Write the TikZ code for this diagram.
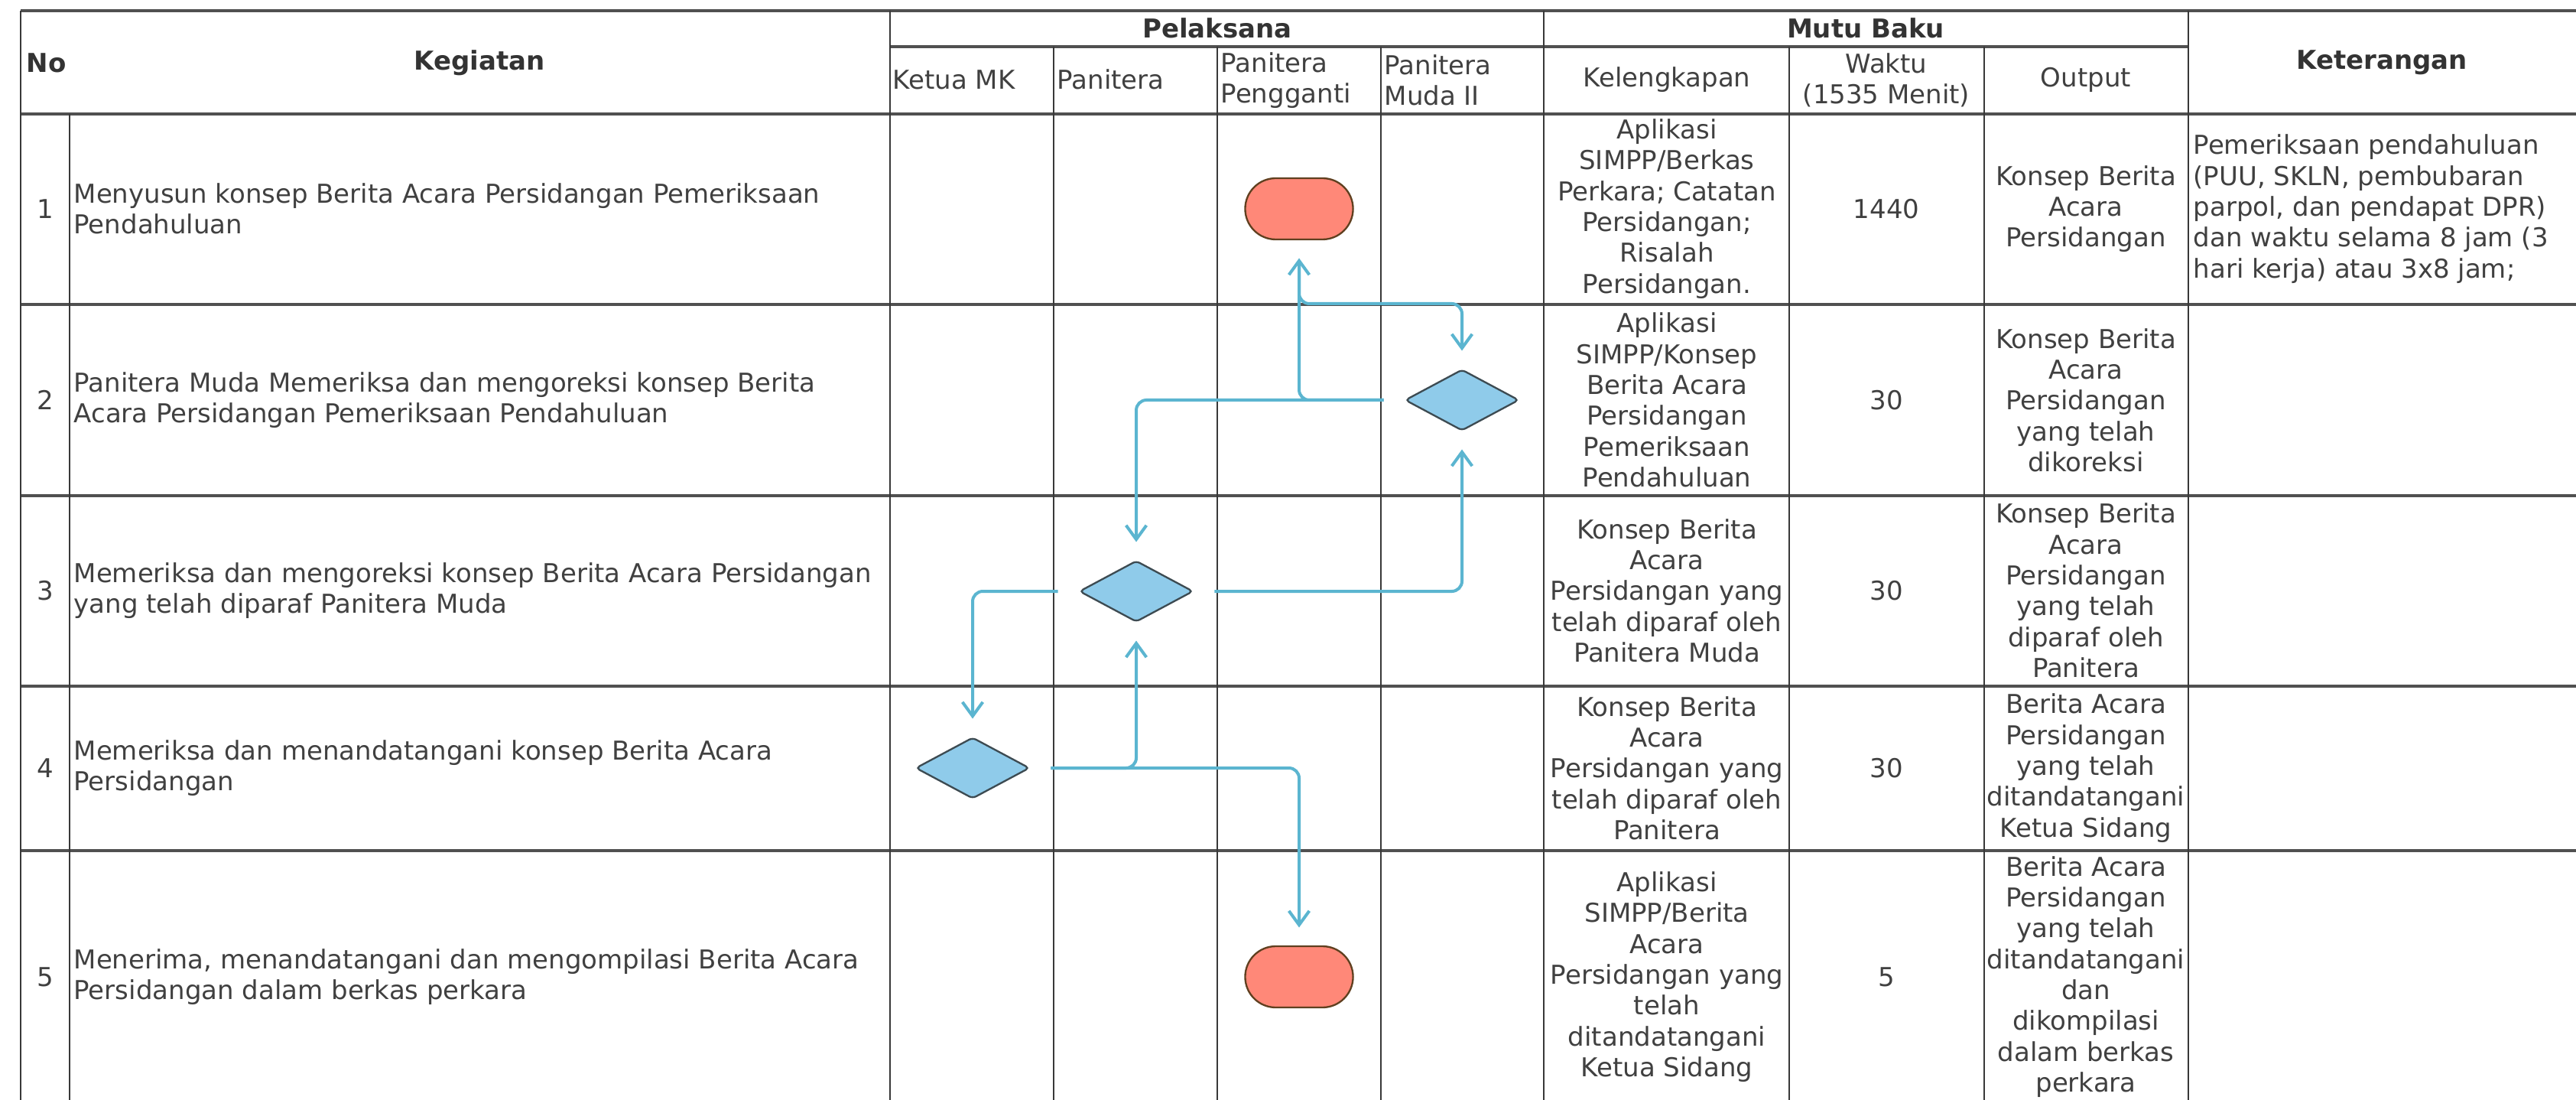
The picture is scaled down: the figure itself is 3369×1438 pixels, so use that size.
\documentclass[tikz,border=0pt]{standalone}
\usepackage{fontspec}
\setmainfont{DejaVu Sans}
\usetikzlibrary{shapes.geometric, shapes.misc, arrows.meta, positioning}
\definecolor{garis}{HTML}{505050}
\definecolor{teks}{HTML}{404040}
\definecolor{alur}{HTML}{5BB5D0}
\definecolor{biru}{HTML}{8FCBEA}
\definecolor{merah}{HTML}{FF8878}
\definecolor{tepi}{HTML}{3D4B52}
\tikzstyle{sel} = [inner sep=0pt, align=center, text=teks, font=\fontsize{10.2pt}{12.1pt}\selectfont]
\tikzstyle{selkiri} = [sel, align=left, anchor=west]
\tikzstyle{judul} = [sel, text=black!80, font=\fontsize{10.2pt}{12.1pt}\selectfont\bfseries]
\tikzstyle{mulai} = [draw=brown!50!black, fill=merah, rounded rectangle, minimum width=49pt, minimum height=24pt, line width=0.7pt]
\tikzstyle{keputusan} = [draw=tepi, fill=biru, diamond, aspect=1.86, minimum width=44.7pt, minimum height=24pt, inner sep=0pt, line width=0.7pt, rounded corners=1.5pt]
\tikzstyle{alir} = [draw=alur, line width=1.2pt, rounded corners=4pt, shorten <=8pt, shorten >=7pt, -{Straight Barb[length=5.5pt,width=8pt]}]
\tikzstyle{hgaris} = [draw=garis, line width=1pt]
\tikzstyle{vgaris} = [draw=garis!70!black, line width=0.6pt]

\begin{document}
\begin{tikzpicture}[x=0.3pt, y=-0.3pt]
	\useasboundingbox (0,0) rectangle (3369,1438);
	% garis tabel
	\draw[hgaris] (27,14) -- (3369,14);
	\draw[hgaris] (1164,61) -- (2862,61);
	\draw[hgaris] (27,149) -- (3369,149);
	\draw[hgaris] (27,398) -- (3369,398);
	\draw[hgaris] (27,648) -- (3369,648);
	\draw[hgaris] (27,897) -- (3369,897);
	\draw[hgaris] (27,1112) -- (3369,1112);
	\draw[vgaris] (27,14) -- (27,1438);
	\draw[vgaris] (91,149) -- (91,1438);
	\draw[vgaris] (1164,14) -- (1164,1438);
	\draw[vgaris] (1378,61) -- (1378,1438);
	\draw[vgaris] (1592,61) -- (1592,1438);
	\draw[vgaris] (1806,61) -- (1806,1438);
	\draw[vgaris] (2019,14) -- (2019,1438);
	\draw[vgaris] (2340,61) -- (2340,1438);
	\draw[vgaris] (2595,61) -- (2595,1438);
	\draw[vgaris] (2862,14) -- (2862,1438);

	% kepala tabel
	\node[judul, anchor=west] (hNo) at (34,82) {No};
	\node[judul] (hKeg) at (627,82) {Kegiatan};
	\node[judul] (hPel) at (1592,37) {Pelaksana};
	\node[judul] (hMutu) at (2440,37) {Mutu Baku};
	\node[judul] (hKet) at (3115,82) {Keterangan};
	\node[selkiri] (hKetua) at (1167,104) {Ketua MK};
	\node[selkiri] (hPan) at (1382,104) {Panitera};
	\node[selkiri] (hPeng) at (1596,105) {Panitera\\Pengganti};
	\node[selkiri] (hMuda) at (1810,105) {Panitera\\Muda II};
	\node[sel] (hKel) at (2180,104) {Kelengkapan};
	\node[sel] (hWak) at (2467,105) {Waktu\\(1535 Menit)};
	\node[sel] (hOut) at (2728,104) {Output};

	% baris 1
	\node[sel] (n1) at (59,273) {1};
	\node[selkiri] (k1) at (96,273) {Menyusun konsep Berita Acara Persidangan Pemeriksaan\\Pendahuluan};
	\node[sel] (l1) at (2180,273) {Aplikasi\\SIMPP/Berkas\\Perkara; Catatan\\Persidangan;\\Risalah\\Persidangan.};
	\node[sel] (w1) at (2467,273) {1440};
	\node[sel] (o1) at (2728,273) {Konsep Berita\\Acara\\Persidangan};
	\node[selkiri] (ket1) at (2868,273) {Pemeriksaan pendahuluan\\(PUU, SKLN, pembubaran\\parpol, dan pendapat DPR)\\dan waktu selama 8 jam (3\\hari kerja) atau 3x8 jam;};

	% baris 2
	\node[sel] (n2) at (59,523) {2};
	\node[selkiri] (k2) at (96,523) {Panitera Muda Memeriksa dan mengoreksi konsep Berita\\Acara Persidangan Pemeriksaan Pendahuluan};
	\node[sel] (l2) at (2180,523) {Aplikasi\\SIMPP/Konsep\\Berita Acara\\Persidangan\\Pemeriksaan\\Pendahuluan};
	\node[sel] (w2) at (2467,523) {30};
	\node[sel] (o2) at (2728,523) {Konsep Berita\\Acara\\Persidangan\\yang telah\\dikoreksi};

	% baris 3
	\node[sel] (n3) at (59,772) {3};
	\node[selkiri] (k3) at (96,772) {Memeriksa dan mengoreksi konsep Berita Acara Persidangan\\yang telah diparaf Panitera Muda};
	\node[sel] (l3) at (2180,772) {Konsep Berita\\Acara\\Persidangan yang\\telah diparaf oleh\\Panitera Muda};
	\node[sel] (w3) at (2467,772) {30};
	\node[sel] (o3) at (2728,772) {Konsep Berita\\Acara\\Persidangan\\yang telah\\diparaf oleh\\Panitera};

	% baris 4
	\node[sel] (n4) at (59,1004) {4};
	\node[selkiri] (k4) at (96,1004) {Memeriksa dan menandatangani konsep Berita Acara\\Persidangan};
	\node[sel] (l4) at (2180,1004) {Konsep Berita\\Acara\\Persidangan yang\\telah diparaf oleh\\Panitera};
	\node[sel] (w4) at (2467,1004) {30};
	\node[sel] (o4) at (2728,1004) {Berita Acara\\Persidangan\\yang telah\\ditandatangani\\Ketua Sidang};

	% baris 5
	\node[sel] (n5) at (59,1277) {5};
	\node[selkiri] (k5) at (96,1277) {Menerima, menandatangani dan mengompilasi Berita Acara\\Persidangan dalam berkas perkara};
	\node[sel] (l5) at (2180,1277) {Aplikasi\\SIMPP/Berita\\Acara\\Persidangan yang\\telah\\ditandatangani\\Ketua Sidang};
	\node[sel] (w5) at (2467,1277) {5};
	\node[sel] (o5) at (2728,1277) {Berita Acara\\Persidangan\\yang telah\\ditandatangani\\dan\\dikompilasi\\dalam berkas\\perkara};

	% bagan alir
	\node[mulai] (t1) at (1699,273) {};
	\node[keputusan] (d2) at (1912,523) {};
	\node[keputusan] (d3) at (1486,773) {};
	\node[keputusan] (d4) at (1272,1004) {};
	\node[mulai] (t5) at (1699,1277) {};
	\coordinate (belok1) at (1699,397);

	\draw[alir] (t1.south) -- (t1.south |- belok1) -| (d2.north);
	\draw[alir] (d2.west) -| (t1.south);
	\draw[alir] (d2.west) -| (d3.north);
	\draw[alir] (d3.east) -| (d2.south);
	\draw[alir] (d3.west) -| (d4.north);
	\draw[alir] (d4.east) -| (t5.north);
	\draw[alir] (d4.east) -| (d3.south);
\end{tikzpicture}
\end{document}
